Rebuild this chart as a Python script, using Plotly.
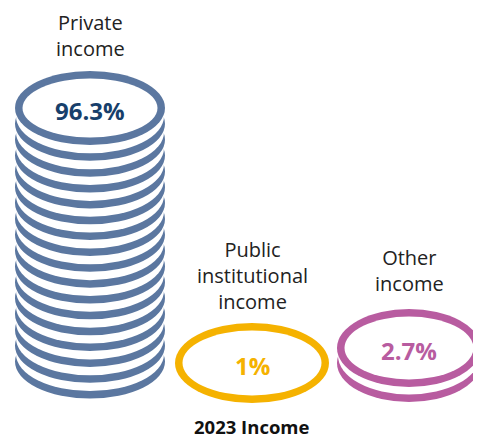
import plotly.graph_objects as go

# ---- data ----
categories = ["Private<br>income", "Public<br>institutional<br>income", "Other<br>income"]
shares = [96.3, 1.0, 2.7]
share_labels = ["96.3%", "1%", "2.7%"]
coins = [17, 1, 2]
coin_colors = ["#5b77a0", "#f5b200", "#b85ca0"]
label_colors = ["#173f6b", "#f5b200", "#b85ca0"]
title_text = "2023 Income"

# ---- layout geometry (page-pixel coordinates) ----
W, H = 481, 439
OFF = 8                      # page body margin
cx = [90, 252, 409]          # stack centre x
top_cy = [108, 363, 348]     # centre y of top coin
ax_ = [75, 77, 72]           # outer semi-axis x
by_ = [37, 40, 39]           # outer semi-axis y
step = [15.85, 15.85, 15.0]  # vertical offset between coins
ring = 7.5
label_y = [35, 275, 270]

fig = go.Figure()
shapes = []
for i in range(3):
    n = coins[i]
    col = coin_colors[i]
    for k in range(n - 1, -1, -1):
        cy = top_cy[i] + k * step[i]
        a, b = ax_[i], by_[i]
        shapes.append(dict(type="circle", xref="x", yref="y",
                           x0=cx[i] - a, x1=cx[i] + a, y0=cy - b, y1=cy + b,
                           fillcolor=col, line=dict(width=0), layer="above"))
        if k == 0:
            shapes.append(dict(type="circle", xref="x", yref="y",
                               x0=cx[i] - a + ring, x1=cx[i] + a - ring,
                               y0=cy - b + ring, y1=cy + b - ring,
                               fillcolor="white", line=dict(width=0), layer="above"))
        else:
            shapes.append(dict(type="circle", xref="x", yref="y",
                               x0=cx[i] - a + 1.0, x1=cx[i] + a - 1.0,
                               y0=cy - b - ring, y1=cy + b - ring,
                               fillcolor="white", line=dict(width=0), layer="above"))

annotations = []
for i in range(3):
    annotations.append(dict(x=cx[i], y=label_y[i], xref="x", yref="y",
                            text=categories[i], showarrow=False,
                            font=dict(family="Open Sans", size=20, color="#222222"),
                            align="center", yanchor="middle", xanchor="center"))
    annotations.append(dict(x=cx[i], y=top_cy[i] + 2, xref="x", yref="y",
                            text="<b>" + share_labels[i] + "</b>", showarrow=False,
                            font=dict(family="Open Sans", size=24, color=label_colors[i]),
                            yanchor="middle", xanchor="center"))
annotations.append(dict(x=252, y=426, xref="x", yref="y", text="<b>" + title_text + "</b>",
                        showarrow=False, borderpad=0,
                        font=dict(family="Open Sans", size=18.5, color="#111111"),
                        yanchor="middle", xanchor="center"))

fig.update_layout(
    width=W - OFF, height=H - OFF,
    margin=dict(l=0, r=0, t=0, b=0),
    paper_bgcolor="white", plot_bgcolor="white",
    xaxis=dict(range=[OFF, W], visible=False, fixedrange=True),
    yaxis=dict(range=[H, OFF], visible=False, fixedrange=True),
    shapes=shapes, annotations=annotations, showlegend=False,
)
fig.write_html("out.html", config={"displayModeBar": False})
